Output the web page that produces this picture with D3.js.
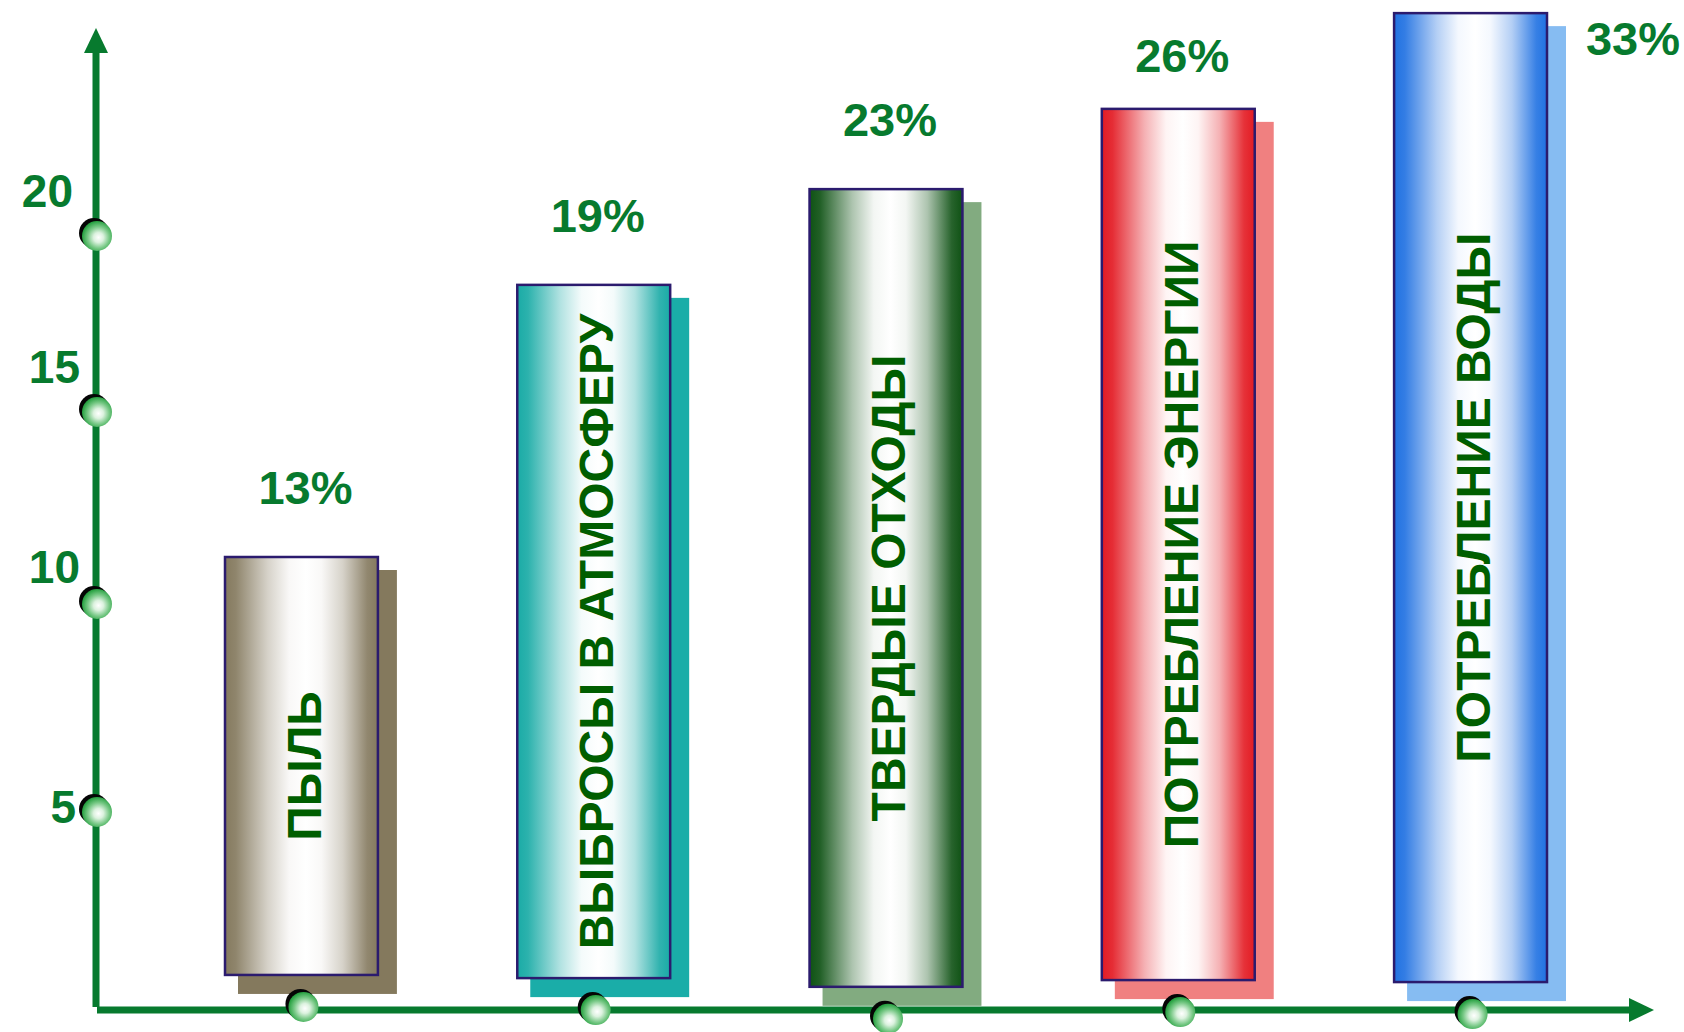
<!DOCTYPE html>
<html>
<head>
<meta charset="utf-8">
<script src="https://cdn.jsdelivr.net/npm/d3@7"></script>
<style>
  body { margin: 0; background: #fff; }
  svg { display: block; }
</style>
</head>
<body>
<svg class="chart" width="1684" height="1032"></svg>
<script>
// data
const categories = ['ПЫЛЬ', 'ВЫБРОСЫ В АТМОСФЕРУ', 'ТВЕРДЫЕ ОТХОДЫ', 'ПОТРЕБЛЕНИЕ ЭНЕРГИИ', 'ПОТРЕБЛЕНИЕ ВОДЫ'];
const percents = [13, 19, 23, 26, 33];
const barTop = [11.25, 18.64, 21.36, 23.64, 26.36];   // in axis units
const barBase = [0.86, 0.78, 0.56, 0.73, 0.68];
const yTicks = [5, 10, 15, 20];

const edgeColors = ['#857a5f', '#1aaba6', '#0f5214', '#e31b23', '#2172e2'];
const shadowColors = ['#84795d', '#1aada8', '#82ab80', '#f08080', '#86bcf2'];

const GREEN = '#077a2e';
const TEXT_DARK = '#005e00';
const FONT = '"Liberation Sans", Arial, sans-serif';

let svg = d3.select('.chart');

// the axis spacing on the picture is not even, so a piecewise scale
let yScale = d3.scaleLinear()
    .domain([0, 5, 10, 15, 20])
    .range([1010, 812, 604, 412, 236]);
// the tick numbers sit at their own offsets
let labelScale = d3.scaleLinear()
    .domain([5, 10, 15, 20])
    .range([806, 566, 366, 190]);

let xScale = d3.scaleBand()
    .domain(categories)
    .range([224, 1548])
    .paddingInner(0.47)
    .paddingOuter(0);

const AXIS_X = 96;

let defs = svg.append('defs');

// bar gradients: edge -> white -> edge
categories.forEach(function(c, i) {
    let mix = d3.interpolateRgb(edgeColors[i], '#ffffff');
    let g = defs.append('linearGradient')
        .attr('id', 'bar' + i)
        .attr('x1', '0%').attr('x2', '100%')
        .attr('y1', '0%').attr('y2', '0%');
    let stops = [[0, 0], [0.07, 0.08], [0.28, 0.66], [0.42, 0.95], [0.53, 1], [0.63, 0.95], [0.77, 0.66], [0.93, 0.1], [1, 0]];
    stops.forEach(function(s) {
        g.append('stop').attr('offset', s[0]).attr('stop-color', mix(s[1]));
    });
});

let mg = defs.append('radialGradient')
    .attr('id', 'marker')
    .attr('cx', '55%').attr('cy', '55%').attr('r', '55%');
mg.append('stop').attr('offset', 0).attr('stop-color', '#ffffff');
mg.append('stop').attr('offset', 0.3).attr('stop-color', '#dcf2df');
mg.append('stop').attr('offset', 0.65).attr('stop-color', '#79c987');
mg.append('stop').attr('offset', 1).attr('stop-color', '#25a03f');

function marker(g, cx, cy) {
    g.append('circle')
        .attr('cx', cx - 3).attr('cy', cy - 3).attr('r', 15)
        .attr('fill', '#050505');
    g.append('circle')
        .attr('cx', cx).attr('cy', cy).attr('r', 15)
        .attr('fill', 'url(#marker)');
}

// axes
let axes = svg.append('g').attr('id', 'axes');
axes.append('line')
    .attr('x1', AXIS_X).attr('x2', AXIS_X)
    .attr('y1', yScale(0) - 3).attr('y2', 50)
    .attr('stroke', GREEN).attr('stroke-width', 7);
axes.append('path')
    .attr('d', `M${AXIS_X - 12},53 L${AXIS_X + 12},53 L${AXIS_X},28 Z`)
    .attr('fill', GREEN);
axes.append('line')
    .attr('x1', AXIS_X + 1).attr('x2', 1632)
    .attr('y1', yScale(0)).attr('y2', yScale(0))
    .attr('stroke', GREEN).attr('stroke-width', 7);
axes.append('path')
    .attr('d', `M1629,${yScale(0) - 12} L1629,${yScale(0) + 12} L1654,${yScale(0)} Z`)
    .attr('fill', GREEN);

// y tick labels
axes.selectAll('text.tick')
    .data(yTicks)
    .join('text')
    .attr('class', 'tick')
    .attr('x', (d) => d === 5 ? 76 : (d === 20 ? 73 : 80))
    .attr('y', (d) => labelScale(d))
    .attr('dy', '0.36em')
    .attr('text-anchor', 'end')
    .attr('font-family', FONT)
    .attr('font-weight', 'bold')
    .attr('font-size', 46)
    .attr('fill', GREEN)
    .text((d) => d);

// bars
let bars = svg.append('g').attr('id', 'bars');
categories.forEach(function(c, i) {
    let x = xScale(c);
    let w = xScale.bandwidth();
    let top = yScale(barTop[i]);
    let bottom = yScale(barBase[i]);

    bars.append('rect')
        .attr('x', x + 14).attr('y', top + 14)
        .attr('width', w + 4).attr('height', bottom - top + 4)
        .attr('fill', shadowColors[i]);

    bars.append('rect')
        .attr('x', x + 1).attr('y', top + 1)
        .attr('width', w - 2).attr('height', bottom - top - 2)
        .attr('fill', 'url(#bar' + i + ')')
        .attr('stroke', '#2b1b6e')
        .attr('stroke-width', 2.5);

    let cx = x + w / 2;
    bars.append('text')
        .attr('transform', `translate(${cx + 2},${(top + bottom) / 2}) rotate(-90)`)
        .attr('text-anchor', 'middle')
        .attr('dy', '0.36em')
        .attr('font-family', FONT)
        .attr('font-weight', 'bold')
        .attr('font-size', 48)
        .attr('fill', TEXT_DARK)
        .text(c);

    // percent label above the bar, or beside it when there is no room
    let lx = cx + 4, ly = top - 52;
    if (ly < 0) {
        lx = x + w + 85;
        ly = top + 43;
    } else if (ly < 60) {
        ly = top - 36;
    }
    svg.append('text')
        .attr('x', lx).attr('y', ly)
        .attr('text-anchor', 'middle')
        .attr('font-family', FONT)
        .attr('font-weight', 'bold')
        .attr('font-size', 47)
        .attr('fill', GREEN)
        .text(percents[i] + '%');
});

// round markers on the axes
let markers = svg.append('g').attr('id', 'markers');
yTicks.forEach(function(t) {
    marker(markers, AXIS_X + 1, yScale(t));
});
categories.forEach(function(c, i) {
    let cx = xScale(c) + xScale.bandwidth() / 2 + 2;
    marker(markers, cx, yScale(barBase[i]) + 31);
});
</script>
</body>
</html>
